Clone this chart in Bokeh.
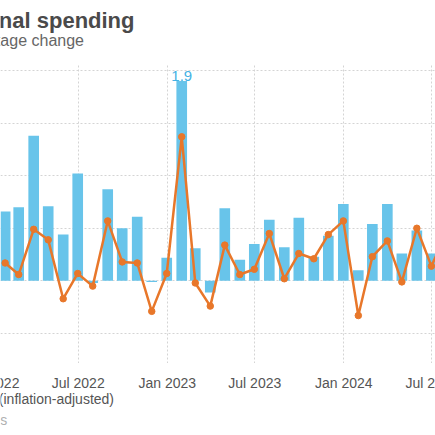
import pandas as pd
from bokeh.plotting import figure
from bokeh.layouts import column
from bokeh.models import Range1d, FixedTicker, ColumnDataSource
from bokeh.core.properties import value
from bokeh.embed import file_html
from bokeh.resources import INLINE

# ---------------- data ----------------
months = ["2022-01", "2022-02", "2022-03", "2022-04", "2022-05", "2022-06",
          "2022-07", "2022-08", "2022-09", "2022-10", "2022-11", "2022-12",
          "2023-01", "2023-02", "2023-03", "2023-04", "2023-05", "2023-06",
          "2023-07", "2023-08", "2023-09", "2023-10", "2023-11", "2023-12",
          "2024-01", "2024-02", "2024-03", "2024-04", "2024-05", "2024-06",
          "2024-07"]
nominal = [0.66, 0.70, 1.38, 0.71, 0.44, 1.02, -0.02, 0.87, 0.50, 0.61, -0.01, 0.22,
           1.90, 0.31, -0.11, 0.69, 0.20, 0.35, 0.58, 0.32, 0.60, 0.23, 0.43, 0.73,
           0.10, 0.54, 0.73, 0.26, 0.48, 0.26, 0.50]
real = [0.17, 0.06, 0.49, 0.39, -0.17, 0.07, -0.05, 0.57, 0.18, 0.17, -0.29, 0.07,
        1.37, -0.02, -0.24, 0.34, 0.06, 0.11, 0.45, 0.02, 0.26, 0.21, 0.44, 0.57,
        -0.33, 0.23, 0.38, -0.01, 0.50, 0.14, 0.45]
tick_months = ["2022-01", "2022-07", "2023-01", "2023-07", "2024-01", "2024-07"]
y_ticks = [-0.5, 0.0, 0.5, 1.0, 1.5, 2.0]

TITLE = "Personal spending"
SUBTITLE = "Monthly percentage change"
LEGEND_REAL = "Real spending (inflation-adjusted)"
SOURCE = "Data: U.S. Bureau of Economic Analysis"

# ---------------- style / layout ----------------
BLUE = "#68c4ea"
BLUE_TEXT = "#45b2e4"
ORANGE = "#e8772a"
GRID = "#d4d4d4"
FONT = "Liberation Sans"
W = 435
HEAD_H, MAIN_H, FOOT_H = 63, 300, 72
Y0, Y1 = -0.786, 2.067
PX_PER_DAY = 0.48379
ANCHOR, ANCHOR_PX = pd.Timestamp("2022-07-01"), 77.7

x_start = ANCHOR - pd.Timedelta(days=ANCHOR_PX / PX_PER_DAY)
x_end = x_start + pd.Timedelta(days=W / PX_PER_DAY)


def ms(ts):
    return pd.Timestamp(ts).value / 1e6


def px_x(px):
    return ms(x_start + pd.Timedelta(days=px / PX_PER_DAY))


x_range = Range1d(ms(x_start), ms(x_end))


def bare(height, y_range):
    f = figure(width=W, height=height, x_axis_type="datetime", x_range=x_range,
               y_range=y_range, output_backend="svg", toolbar_location=None,
               min_border_left=0, min_border_right=0, min_border_top=0, min_border_bottom=0)
    f.outline_line_color = None
    f.background_fill_color = "white"
    f.border_fill_color = "white"
    f.xaxis.visible = False
    f.yaxis.visible = False
    return f


def texts(f, xs, ys, labels, size, color, align, bold=False, y_offset=0):
    f.text(x=xs, y=ys, text=labels, text_font=value(FONT), text_font_size=value(size),
           text_color=color, text_align=align, text_baseline="alphabetic",
           text_font_style="bold" if bold else "normal", y_offset=y_offset)


# ---- header: title and subtitle (y in pixels from the top) ----
head = bare(HEAD_H, Range1d(HEAD_H, 0))
head.grid.visible = False
texts(head, [px_x(134)], [20], [TITLE], "22px", "#4a4a4a", "right", bold=True)
texts(head, [px_x(83.5)], [40], [SUBTITLE], "16px", "#666666", "right")

# ---- main chart ----
dates = pd.to_datetime(months) + pd.offsets.MonthEnd(0)
src = ColumnDataSource(dict(x=dates, nominal=nominal, real=real))

p = bare(MAIN_H, Range1d(Y0, Y1))
tick_ms = [ms(t) for t in tick_months]
p.xgrid.ticker = FixedTicker(ticks=tick_ms)
p.ygrid.ticker = FixedTicker(ticks=y_ticks)
for g in (p.xgrid, p.ygrid):
    g.grid_line_color = GRID
    g.grid_line_dash = "2 2"
    g.grid_line_width = 1

bar_w = 22 * 24 * 3600 * 1000
p.vbar(x="x", top="nominal", width=bar_w, source=src, fill_color=BLUE, line_color=None)
p.line(x="x", y="real", source=src, line_color=ORANGE, line_width=2.5)
p.scatter(x="x", y="real", source=src, size=6.5, fill_color=ORANGE, line_color=ORANGE)

imax = max(range(len(nominal)), key=lambda i: nominal[i])
texts(p, [dates[imax]], [nominal[imax]], [f"{nominal[imax]}"], "15px", BLUE_TEXT, "center",
      y_offset=-5)

# ---- footer: x tick labels, legend text, source (y in pixels from the top) ----
foot = bare(FOOT_H, Range1d(FOOT_H, 0))
foot.grid.visible = False
tick_labels = [pd.Timestamp(t).strftime("%b %Y") for t in tick_months]
texts(foot, tick_ms, [19] * len(tick_ms), tick_labels, "14px", "#555555", "center")
texts(foot, [px_x(113.5)], [35], [LEGEND_REAL], "14px", "#555555", "right")
texts(foot, [px_x(7.5)], [56], [SOURCE], "14px", "#b0b0b0", "right")

layout = column(head, p, foot, spacing=0)
open("out.html", "w").write(file_html(layout, INLINE))
